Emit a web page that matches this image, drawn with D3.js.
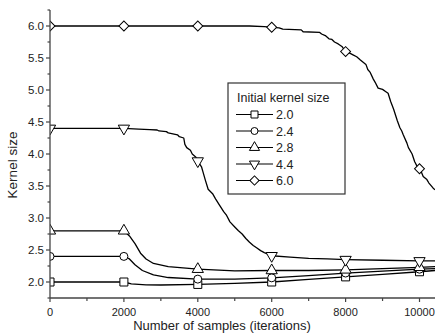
<!DOCTYPE html>
<html>
<head>
<meta charset="utf-8">
<script src="https://cdn.jsdelivr.net/npm/d3@7"></script>
<style>
  body { margin: 0; background: #fff; }
  svg { font-family: 'Liberation Sans', Arial, sans-serif; }
</style>
</head>
<body>
<div id="chart"></div>
<script>
// series names (initial kernel size)
const seriesNames = ['2.0', '2.4', '2.8', '4.4', '6.0'];

// curves: [iteration, kernel size]
const curve20 = [[0, 2.0], [2000, 2.0], [2200, 1.97], [2600, 1.955], [3000, 1.953], [4000, 1.962], [5000, 1.98], [6000, 2.0], [7000, 2.04], [8000, 2.08], [9000, 2.12], [10000, 2.16], [10420, 2.18]];
const curve24 = [[0, 2.4], [2000, 2.4], [2150, 2.36], [2300, 2.27], [2500, 2.18], [2800, 2.11], [3200, 2.07], [4000, 2.045], [5000, 2.045], [6000, 2.065], [7000, 2.1], [8000, 2.14], [9000, 2.17], [10000, 2.2], [10420, 2.21]];
const curve28 = [[0, 2.8], [2000, 2.8], [2150, 2.72], [2300, 2.6], [2450, 2.45], [2600, 2.36], [2800, 2.29], [3200, 2.24], [4000, 2.2], [5000, 2.175], [6000, 2.18], [7000, 2.18], [8000, 2.19], [9000, 2.21], [10000, 2.23], [10420, 2.24]];
const curve44 = [[0, 4.4], [2000, 4.4], [2400, 4.39], [2700, 4.38], [2900, 4.375], [2950, 4.36], [3150, 4.35], [3200, 4.33], [3450, 4.3], [3500, 4.27], [3620, 4.25], [3650, 4.15], [3700, 4.1], [3800, 4.06], [3850, 4.0], [3950, 3.95], [4000, 3.89], [4100, 3.8], [4140, 3.72], [4200, 3.6], [4280, 3.45], [4400, 3.38], [4480, 3.3], [4600, 3.19], [4700, 3.1], [4780, 3.04], [4870, 2.94], [5000, 2.86], [5100, 2.8], [5200, 2.75], [5300, 2.68], [5400, 2.62], [5500, 2.57], [5600, 2.53], [5700, 2.49], [5800, 2.46], [6000, 2.41], [6500, 2.39], [7000, 2.37], [7500, 2.36], [8000, 2.35], [9000, 2.34], [10000, 2.33], [10420, 2.33]];
const curve60 = [[0, 6.0], [5400, 6.0], [5800, 5.99], [6200, 5.97], [6300, 5.95], [6800, 5.94], [6850, 5.91], [7300, 5.9], [7350, 5.875], [7450, 5.85], [7550, 5.8], [7630, 5.79], [7700, 5.75], [7800, 5.72], [7900, 5.68], [8000, 5.6], [8100, 5.58], [8200, 5.55], [8300, 5.52], [8400, 5.47], [8550, 5.4], [8600, 5.32], [8660, 5.28], [8750, 5.17], [8800, 5.12], [8880, 5.03], [9000, 5.01], [9100, 4.97], [9150, 4.95], [9220, 4.82], [9300, 4.7], [9400, 4.52], [9470, 4.41], [9520, 4.36], [9560, 4.3], [9660, 4.17], [9700, 4.1], [9800, 4.0], [9870, 3.88], [9960, 3.78], [10050, 3.72], [10100, 3.65], [10200, 3.6], [10250, 3.55], [10365, 3.47], [10420, 3.44]];

// marker positions
const markerIters = [0, 2000, 4000, 6000, 8000, 10000];
const markers20 = [2.0, 2.0, 1.962, 2.0, 2.08, 2.16];
const markers24 = [2.4, 2.4, 2.045, 2.065, 2.14, 2.2];
const markers28 = [2.8, 2.8, 2.2, 2.18, 2.19, 2.23];
const markers44 = [4.4, 4.4, 3.89, 2.41, 2.35, 2.33];
const markers60 = [6.0, 6.0, 6.0, 5.98, 5.6, 3.77];

// axis ticks
const xTicks = [0, 2000, 4000, 6000, 8000, 10000];
const xMinor = [1000, 3000, 5000, 7000, 9000];
const yTicks = [2.0, 2.5, 3.0, 3.5, 4.0, 4.5, 5.0, 5.5, 6.0];
const yMinor = [1.75, 2.25, 2.75, 3.25, 3.75, 4.25, 4.75, 5.25, 5.75, 6.25];

const curves = [curve20, curve24, curve28, curve44, curve60];
const markerVals = [markers20, markers24, markers28, markers44, markers60];
const shapes = ['square', 'circle', 'up', 'down', 'diamond'];

const W = 435, H = 334;
const plotLeft = 50, plotRight = 435, plotTop = 10, plotBottom = 298;

const xScale = d3.scaleLinear().domain([0, 10000]).range([plotLeft, 419.5]);
const yScale = d3.scaleLinear().domain([2.0, 6.0]).range([282, 26]);

const svg = d3.select('#chart').append('svg')
  .attr('width', W)
  .attr('height', H);

svg.append('defs').append('clipPath').attr('id', 'plotclip')
  .append('rect')
  .attr('x', plotLeft).attr('y', 0)
  .attr('width', plotRight - plotLeft).attr('height', plotBottom + 1);

function symbolPath(shape, size) {
  if (shape === 'circle') return d3.symbol(d3.symbolCircle, size * size * Math.PI / 4)();
  if (shape === 'square' || shape === 'diamond') return d3.symbol(d3.symbolSquare, size * size)();
  return d3.symbol(d3.symbolTriangle, size * size * 0.55)();
}
function symbolRotate(shape) {
  if (shape === 'down') return 180;
  if (shape === 'diamond') return 45;
  return 0;
}
function drawMarker(g, shape, x, y, size) {
  g.append('path')
    .attr('d', symbolPath(shape, size))
    .attr('transform', 'translate(' + x + ',' + y + ') rotate(' + symbolRotate(shape) + ')')
    .attr('fill', '#fff')
    .attr('stroke', '#000')
    .attr('stroke-width', 1);
}

const line = d3.line()
  .x(d => xScale(d[0]))
  .y(d => yScale(d[1]));

const plot = svg.append('g').attr('clip-path', 'url(#plotclip)');

curves.forEach(c => {
  plot.append('path')
    .attr('d', line(c))
    .attr('fill', 'none')
    .attr('stroke', '#000')
    .attr('stroke-width', 1.3)
    .attr('stroke-linejoin', 'round');
});

markerVals.forEach((vals, i) => {
  vals.forEach((v, j) => {
    const sz = shapes[i] === 'diamond' ? 7 : (shapes[i] === 'up' || shapes[i] === 'down' ? 10 : 8);
    drawMarker(plot, shapes[i], xScale(markerIters[j]), yScale(v), sz);
  });
});

// axes
const axisColor = '#444';
const yAxis = svg.append('g').attr('transform', 'translate(' + plotLeft + ',0)');
yAxis.append('line').attr('x1', 0).attr('x2', 0).attr('y1', plotTop).attr('y2', plotBottom)
  .attr('stroke', axisColor).attr('stroke-width', 1.3);
yAxis.selectAll('.ymaj').data(yTicks).enter().append('line')
  .attr('x1', -4).attr('x2', 0)
  .attr('y1', d => yScale(d)).attr('y2', d => yScale(d))
  .attr('stroke', axisColor).attr('stroke-width', 1.2);
yAxis.selectAll('.ymin').data(yMinor).enter().append('line')
  .attr('x1', -2.5).attr('x2', 0)
  .attr('y1', d => yScale(d)).attr('y2', d => yScale(d))
  .attr('stroke', axisColor).attr('stroke-width', 1.2);
yAxis.selectAll('.ylab').data(yTicks).enter().append('text')
  .attr('x', -6)
  .attr('y', d => yScale(d) + 4)
  .attr('text-anchor', 'end')
  .attr('font-size', '11.5px')
  .attr('fill', '#222')
  .text(d => d.toFixed(1));

const xAxis = svg.append('g').attr('transform', 'translate(0,' + plotBottom + ')');
xAxis.append('line').attr('x1', plotLeft).attr('x2', plotRight).attr('y1', 0).attr('y2', 0)
  .attr('stroke', axisColor).attr('stroke-width', 1.3);
xAxis.selectAll('.xmaj').data(xTicks).enter().append('line')
  .attr('x1', d => xScale(d)).attr('x2', d => xScale(d))
  .attr('y1', 0).attr('y2', 4)
  .attr('stroke', axisColor).attr('stroke-width', 1.2);
xAxis.selectAll('.xmin').data(xMinor).enter().append('line')
  .attr('x1', d => xScale(d)).attr('x2', d => xScale(d))
  .attr('y1', 0).attr('y2', 3)
  .attr('stroke', axisColor).attr('stroke-width', 1.2);
xAxis.selectAll('.xlab').data(xTicks).enter().append('text')
  .attr('x', d => xScale(d))
  .attr('y', 18)
  .attr('text-anchor', 'middle')
  .attr('font-size', '11px')
  .attr('fill', '#222')
  .text(d => d);

// axis titles
svg.append('text')
  .attr('x', 222).attr('y', 330)
  .attr('text-anchor', 'middle')
  .attr('font-size', '13px')
  .attr('fill', '#222')
  .text('Number of samples (iterations)');
svg.append('text')
  .attr('transform', 'translate(17,165) rotate(-90)')
  .attr('text-anchor', 'middle')
  .attr('font-size', '13.5px')
  .attr('fill', '#222')
  .text('Kernel size');

// legend
const legend = svg.append('g');
legend.append('rect')
  .attr('x', 228).attr('y', 83).attr('width', 117).attr('height', 111)
  .attr('fill', '#fff').attr('stroke', '#333').attr('stroke-width', 1.2);
legend.append('text')
  .attr('x', 237).attr('y', 102)
  .attr('font-size', '12.5px')
  .attr('fill', '#222')
  .text('Initial kernel size');
seriesNames.forEach((name, i) => {
  const y = 114.5 + i * 16.5;
  legend.append('line')
    .attr('x1', 236).attr('x2', 273).attr('y1', y).attr('y2', y)
    .attr('stroke', '#000').attr('stroke-width', 1.1);
  const sz = shapes[i] === 'diamond' ? 6.5 : (shapes[i] === 'up' || shapes[i] === 'down' ? 9 : 7);
  drawMarker(legend, shapes[i], 254.5, y, sz);
  legend.append('text')
    .attr('x', 276).attr('y', y + 4.5)
    .attr('font-size', '12.5px')
    .attr('fill', '#222')
    .text(name);
});
</script>
</body>
</html>
